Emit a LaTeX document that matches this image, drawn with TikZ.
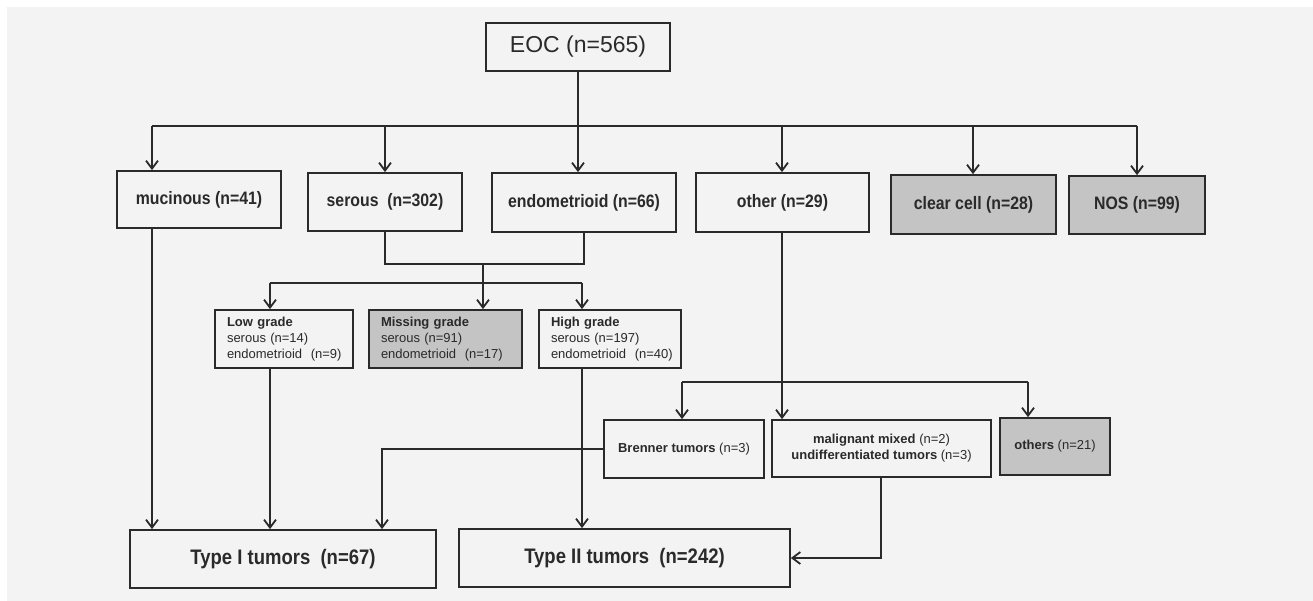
\documentclass[tikz,border=0pt]{standalone}
\usepackage{fontspec}
\setmainfont{Liberation Sans}
\newfontfamily\narfont[FakeStretch=0.88]{Liberation Sans}
\usetikzlibrary{arrows.meta}
\definecolor{bgc}{HTML}{F3F3F3}
\definecolor{boxg}{HTML}{C4C4C4}
\definecolor{ink}{HTML}{2A2A2A}
\begin{document}
\begin{tikzpicture}[x=1pt,y=-1pt,color=ink,line width=1.8pt,
  box/.style={draw=ink,fill=bgc,line width=1.7pt,inner sep=0pt,align=center,text=ink},
  gbox/.style={box,fill=boxg},
  topfont/.style={font=\narfont\bfseries\fontsize{18}{21}\selectfont},
  typefont/.style={font=\narfont\bfseries\fontsize{21}{25}\selectfont},
  smallfont/.style={font=\fontsize{13}{16}\selectfont},
  gradebox/.style={smallfont,align=left,inner xsep=12pt,inner ysep=0pt},
  arr/.style={-{Straight Barb[length=8pt,width=12pt]}}]
\fill[white] (0,0) rectangle (1313,601);
\fill[bgc] (7,7) rectangle (1313,601);
\useasboundingbox (0,0) rectangle (1313,601);

% top
\node[box,minimum width=184,minimum height=48,font=\fontsize{23}{27}\selectfont] (eoc) at (578,47) {EOC (n=565)};

\node[box,topfont,minimum width=164,minimum height=57] (muc) at (199,199.5) {mucinous (n=41)};
\node[box,topfont,minimum width=154,minimum height=58] (ser) at (385,202) {serous~ (n=302)};
\node[box,topfont,minimum width=184,minimum height=59] (endo) at (584,202.5) {endometrioid (n=66)};
\node[box,topfont,minimum width=173,minimum height=59] (oth) at (782.5,202.5) {other (n=29)};
\node[gbox,topfont,minimum width=165,minimum height=59] (cc) at (973.5,204.5) {clear cell (n=28)};
\node[gbox,topfont,minimum width=136,minimum height=58] (nos) at (1137,205) {NOS (n=99)};

% grade
\node[box,gradebox,minimum width=138,minimum height=58,text width=114] (low) at (284,339) {\textbf{Low grade}\\serous (n=14)\\endometrioid~ (n=9)};
\node[gbox,gradebox,minimum width=153,minimum height=58,text width=129] (miss) at (445.5,339) {\textbf{Missing grade}\\serous (n=91)\\endometrioid~ (n=17)};
\node[box,gradebox,minimum width=142,minimum height=58,text width=118] (high) at (610,339) {\textbf{High grade}\\serous (n=197)\\endometrioid~ (n=40)};

% other subtypes
\node[box,smallfont,minimum width=160,minimum height=58] (bren) at (684,449) {\textbf{Brenner tumors} (n=3)};
\node[box,smallfont,minimum width=219,minimum height=57] (mal) at (881.5,448.5) {\textbf{malignant mixed} (n=2)\\\textbf{undifferentiated tumors} (n=3)};
\node[gbox,smallfont,minimum width=110,minimum height=57] (others) at (1055,446.5) {\textbf{others} (n=21)};

% types
\node[box,typefont,minimum width=306,minimum height=58] (t1) at (283,559) {Type I tumors~ (n=67)};
\node[box,typefont,minimum width=331,minimum height=58] (t2) at (624.5,558) {Type II tumors~ (n=242)};

% coordinates
\coordinate (bL) at (152,126);
\coordinate (bR) at (1137,126);
\coordinate (serX) at (385,126);
\coordinate (othX) at (782,126);
\coordinate (ccX) at (973,126);
\coordinate (mergeY) at (0,264);
\coordinate (gL) at (270,283);
\coordinate (gM) at (483,283);
\coordinate (gR) at (582,283);
\coordinate (oL) at (682,382);
\coordinate (oR) at (1028,382);
\coordinate (brX) at (382,449);
\coordinate (malX) at (881,558);

% EOC tree
\draw (eoc.south) -- (eoc.south |- bL);
\draw (bL) -- (bR);
\draw[arr] (bL) -- (bL |- muc.north);
\draw[arr] (serX) -- (serX |- ser.north);
\draw[arr] (eoc.south |- bL) -- (eoc.south |- endo.north);
\draw[arr] (othX) -- (othX |- oth.north);
\draw[arr] (ccX) -- (ccX |- cc.north);
\draw[arr] (bR) -- (bR |- nos.north);

% serous / endometrioid merge
\draw (ser.south) -- (ser.south |- mergeY) -| (endo.south);
\draw (gM |- mergeY) -- (gM);
\draw (gL) -- (gR);
\draw[arr] (gL) -- (gL |- low.north);
\draw[arr] (gM) -- (gM |- miss.north);
\draw[arr] (gR) -- (gR |- high.north);

% other subtypes
\draw[arr] (othX |- oth.south) -- (othX |- mal.north);
\draw (oL) -- (oR);
\draw[arr] (oL) -- (oL |- bren.north);
\draw[arr] (oR) -- (oR |- others.north);

% to type I / II
\draw[arr] (bL |- muc.south) -- (bL |- t1.north);
\draw[arr] (gL |- low.south) -- (gL |- t1.north);
\draw[arr] (bren.west) -- (brX) -- (brX |- t1.north);
\draw[arr] (gR |- high.south) -- (gR |- t2.north);
\draw[arr] (malX |- mal.south) -- (malX) -- (t2.east |- malX);
\end{tikzpicture}
\end{document}
